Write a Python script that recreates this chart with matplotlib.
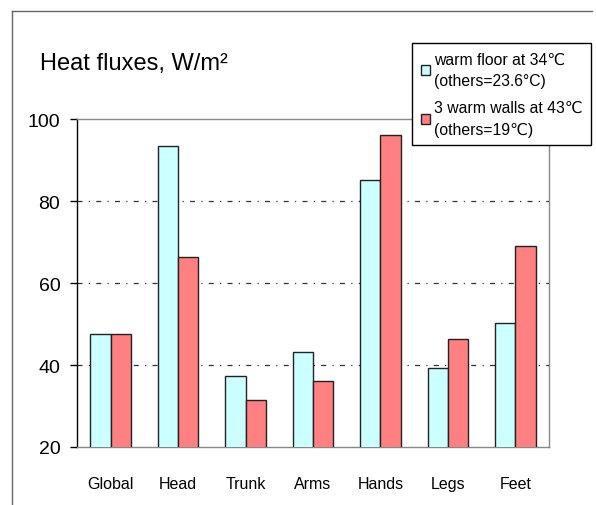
import matplotlib
matplotlib.use("Agg")
import matplotlib.pyplot as plt
import numpy as np
from matplotlib.lines import Line2D

plt.rcParams['font.family'] = ['Liberation Sans', 'DejaVu Sans']

# data
parts = ['Global', 'Head', 'Trunk', 'Arms', 'Hands', 'Legs', 'Feet']
warm_floor = [47.6, 93.6, 37.3, 43.2, 85.2, 39.3, 50.3]
warm_walls = [47.6, 66.4, 31.5, 36.1, 96.1, 46.4, 69.0]
series_labels = ['warm floor at 34\u2103\n(others=23.6\u00b0C)',
                 '3 warm walls at 43\u2103\n(others=19\u2103)']
yticks = [20, 40, 60, 80, 100]

W, H = 596, 506
fig = plt.figure(figsize=(W / 100, H / 100), dpi=100)
ax = fig.add_axes([77 / W, 1 - 448 / H, (549 - 77) / W, (448 - 120.3) / H])

x = np.arange(len(parts))
bw = 0.30
b1 = ax.bar(x - bw / 2, warm_floor, bw, color='#CCFFFF', edgecolor='#222222',
            linewidth=1, zorder=3, label=series_labels[0])
b2 = ax.bar(x + bw / 2, warm_walls, bw, color='#FF8080', edgecolor='#222222',
            linewidth=1, zorder=3, label=series_labels[1])

ax.set_xlim(-0.5, len(parts) - 0.5)
ax.set_ylim(20, 100)
ax.set_yticks(yticks)
ax.set_xticks(x)
ax.set_xticklabels(parts, fontsize=11.5)
ax.tick_params(axis='x', length=0, pad=21)
ax.tick_params(axis='y', length=5, width=1, pad=7, labelsize=14, color='black')

# gridlines at 40, 60, 80 (dash-dot), 100 is the grey top edge
for v in yticks[1:-1]:
    ax.axhline(v, color='#333333', linewidth=0.9, linestyle=(0, (4, 5, 1, 5)), zorder=1)

ax.spines['left'].set_color('black')
for s in ['top', 'right', 'bottom']:
    ax.spines[s].set_color('#888888')
for s in ax.spines.values():
    s.set_linewidth(1)

fig.text(40 / W, 1 - 64 / H, 'Heat fluxes, W/m\u00b2', fontsize=17, va='center', ha='left')

leg = ax.legend(loc='upper left', bbox_to_anchor=(412 / W, 1 - 44 / H),
                bbox_transform=fig.transFigure, fontsize=11.3, frameon=True,
                fancybox=False, framealpha=1, edgecolor='black',
                handlelength=0.6, handleheight=0.6, handletextpad=0.25,
                borderpad=0.55, labelspacing=0.75, borderaxespad=0)
for t in leg.get_texts():
    t.set_linespacing(1.55)
leg.get_frame().set_linewidth(1)
leg.set_zorder(10)

# outer chart frame (partially cropped in the reference)
fig.add_artist(Line2D([12 / W, 592 / W], [1 - 12 / H, 1 - 12 / H],
                      transform=fig.transFigure, color='#666666', linewidth=1))
fig.add_artist(Line2D([12 / W, 12 / W], [1 - 12 / H, 0],
                      transform=fig.transFigure, color='#666666', linewidth=1))

fig.savefig('out.png', dpi=100)
